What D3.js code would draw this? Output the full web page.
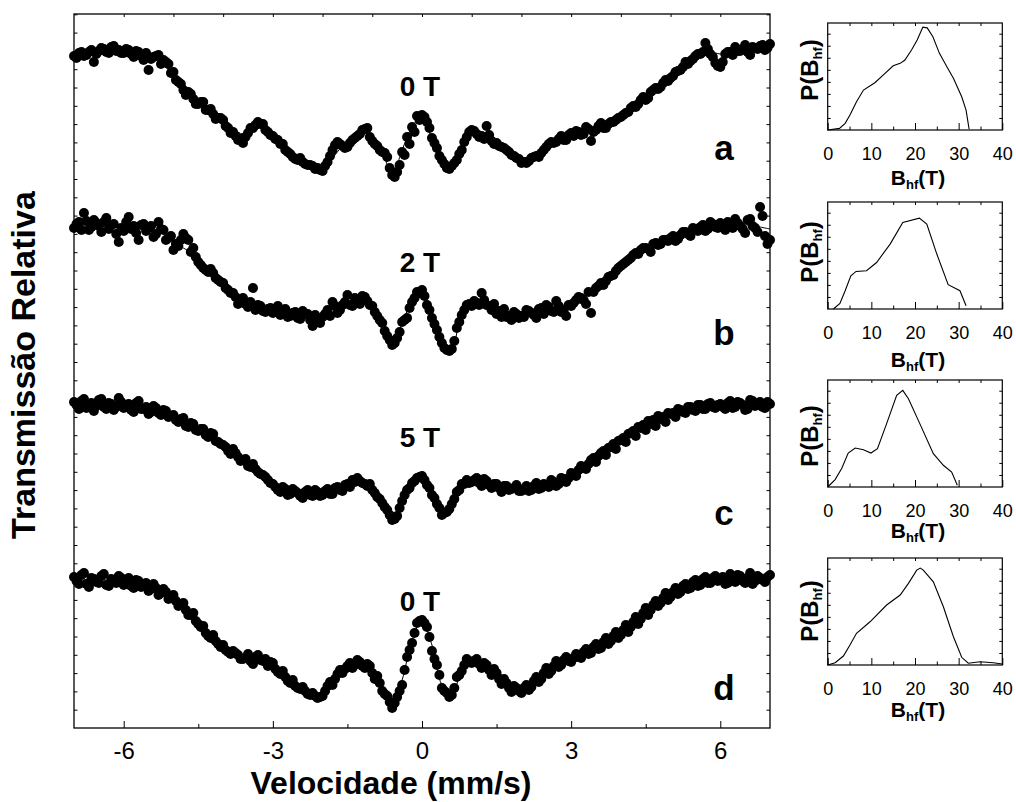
<!DOCTYPE html>
<html>
<head>
<meta charset="utf-8">
<script src="https://cdn.jsdelivr.net/npm/d3@7"></script>
<style>
  body { margin: 0; background: #fff; }
  svg text { font-family: "Liberation Sans", Arial, sans-serif; fill: #000; }
</style>
</head>
<body>
<div id="chart"></div>
<script>
// velocity grid of the spectrometer (mm/s): two interleaved channel sets, fit every 0.2
const velPts = d3.range(-70, 71).map(i => i / 10);
const velPts2 = d3.range(-70, 70).map(i => (i + 0.5) / 10);
const velFit = d3.range(-35, 36).map(i => i / 5);

// absorption below each spectrum's baseline (arb. units)
const ptsA = [16,13,16,12,22,11,9,13,6,10, 13,10,17,12,20,30,17,15,20,24, 32,42,50,52,59,64,62,70,74,78,
  80,88,92,100,103,93,88,82,84,92, 96,100,104,112,117,120,122,125,126,128, 131,122,110,102,106,107,100,96,90,88,
  101,106,112,117,135,132,112,97,87,76, 75,82,98,108,120,128,126,120,110,97, 90,94,96,86,101,103,107,110,115,118,
  123,123,118,116,113,107,102,102,96,100, 93,91,95,87,101,90,83,88,82,80, 77,73,68,67,60,60,52,48,47,40,
  38,32,30,22,21,16,14,3,14,23, 27,14,12,7,11,5,15,8,6,10, 4];
const ptsA2 = [18,12,15,10,14,8,12,7,11,13, 9,14,11,16,13,19,16,24,22,33, 40,44,55,54,64,62,70,69,79,78,
  86,93,96,99,97,88,85,84,90,95, 99,104,110,114,119,118,124,125,129,130, 126,116,105,104,108,103,98,94,89,97,
  104,110,113,128,137,125,115,104,92,80, 77,88,103,116,124,129,123,114,102,92, 91,97,99,95,104,106,108,112,116,119,
  122,121,117,117,110,104,103,99,100,95, 96,92,94,89,92,86,88,84,82,78, 75,72,66,64,57,58,50,49,43,41,
  36,31,27,24,19,14,12,9,17,26, 22,12,15,11,9,12,7,9,5,8];
const fitA = [15,14,12,11,10,11,12,15,19,25, 36,49,60,67,74,82,89,94,90,87, 93,105,115,123,127,128,118,106,98,91,
  100,112,135,110,87,77,100,123,127,106, 92,97,102,105,113,120,120,113,106,100, 97,93,91,88,83,77,70,61,54,46,
  39,30,21,14,12,14,13,10,8,7, 5];

const ptsB = [8,2,-7,10,0,6,2,9,4,22, 11,-3,6,20,4,8,17,2,10,18, 30,26,14,20,28,42,48,52,53,60,
  63,70,73,84,78,87,68,85,91,89, 93,86,91,97,93,98,91,94,106,100, 97,90,82,93,85,75,86,79,76,81,
  86,96,103,116,125,118,102,98,82,72, 70,85,98,110,123,130,129,108,95,85, 86,83,73,85,90,94,97,97,100,94,
  96,90,93,98,88,85,91,81,92,96, 86,80,78,84,93,68,63,61,56,51, 46,42,38,33,30,28,32,23,24,20,
  18,21,15,12,16,9,7,11,2,7, 3,10,4,-1,6,13,-1,8,-13,16, 20];
const ptsB2 = [4,10,1,7,3,12,-2,5,14,8, 2,9,13,5,11,6,14,9,20,16, 24,20,18,32,37,45,50,49,58,62,
  68,73,77,80,84,82,90,86,92,88, 91,95,89,96,92,99,94,100,95,103, 94,96,86,90,82,85,78,84,77,85,
  92,100,111,120,123,112,100,88,78,73, 76,90,104,117,128,131,121,102,90,84, 81,85,80,86,84,91,89,96,92,98,
  97,91,95,89,94,87,92,86,90,85, 83,77,80,72,72,66,65,57,55,48, 44,40,35,34,28,29,24,25,20,21,
  16,19,12,14,8,11,5,9,4,8, 7,2,8,3,9,0,6,12,-4,24];
const fitB = [6,6,5,5,6,7,7,8,10,14, 21,28,34,46,55,63,72,80,85,88, 90,91,93,95,97,97,92,87,83,80,
  85,107,127,103,82,72,98,128,128,92, 83,82,87,93,95,94,92,91,89,86, 83,78,72,65,56,46,37,30,26,21,
  18,15,11,8,6,5,5,5,5,7, 9];

const ptsC = [2,9,-1,6,11,0,7,3,10,-2, 8,4,12,1,9,14,6,13,10,17, 15,22,18,27,24,31,29,37,34,42,
  45,51,49,57,60,66,64,72,75,80, 84,90,87,95,89,93,98,90,96,92, 95,89,94,87,91,84,80,78,83,86,
  90,97,103,110,120,116,101,90,83,78, 76,85,95,104,115,112,104,92,84,80, 82,78,86,81,88,84,92,86,89,85,
  91,86,90,83,88,85,80,86,78,82, 73,76,66,69,60,62,53,55,47,49, 40,42,33,36,28,30,24,26,19,22,
  14,17,10,13,7,11,5,9,3,8, 4,9,1,7,3,10,0,6,2,8, 4];
const ptsC2 = [5,1,8,3,6,-1,9,4,7,2, 6,10,3,9,7,12,8,15,11,16, 20,19,26,23,30,29,35,33,41,44,
  47,54,53,61,59,67,69,74,77,83, 87,92,89,94,91,96,92,95,90,96, 91,94,88,90,85,87,82,81,84,84,
  93,99,107,115,119,108,95,88,81,77, 80,88,98,108,113,109,99,90,84,83, 80,83,79,85,84,88,86,90,88,91,
  89,91,86,89,84,87,82,84,79,78, 75,70,68,64,58,56,51,48,44,41, 38,34,31,27,25,21,20,16,17,13,
  13,9,12,7,10,5,9,4,7,5, 7,3,8,2,5,9,1,5,7,2];
const fitC = [3,3,4,4,5,5,6,8,10,13, 17,22,27,33,40,47,55,62,70,78, 85,90,92,93,93,93,92,88,84,81,
  86,98,117,100,84,78,91,111,108,88, 81,81,83,86,88,90,90,88,85,81, 76,69,61,53,45,37,30,24,19,15,
  12,10,8,7,6,5,5,5,5,4, 4];

const ptsD = [2,9,-2,12,4,8,-1,11,5,1, 10,3,13,6,11,16,9,20,14,24, 20,31,28,40,38,49,51,61,60,69,
  70,77,76,80,84,79,89,80,86,91, 88,97,96,106,105,113,112,119,118,123, 121,111,110,99,98,91,93,85,91,89,
  98,101,116,121,133,122,110,82,68,48, 45,52,76,90,113,118,120,102,96,84, 88,84,93,90,100,98,109,108,117,113,
  118,110,112,102,104,93,96,86,90,82, 87,79,83,74,78,69,73,63,66,57, 60,50,52,42,44,33,35,26,28,18,
  22,13,17,9,13,5,10,2,8,1, 5,9,-1,7,1,8,-2,6,3,7, 0];
const ptsD2 = [6,0,9,3,7,1,10,4,8,3, 7,11,5,12,8,14,13,18,17,21, 26,30,35,40,46,52,58,63,66,72,
  75,79,78,84,83,86,82,85,84,87, 94,99,102,108,111,114,116,120,121,122, 116,107,104,95,94,88,90,87,93,91,
  104,108,119,127,128,116,95,75,58,46, 48,62,84,100,116,122,113,100,90,86, 86,89,88,95,94,104,104,113,111,116,
  113,115,106,107,98,99,91,92,85,86, 83,82,77,79,72,74,67,69,61,63, 55,57,47,49,38,40,30,31,23,25,
  17,19,11,14,7,11,4,8,3,6, 2,8,4,0,6,3,9,1,5,2];
const fitD = [5,5,5,5,5,6,7,9,12,16, 23,32,43,55,65,73,78,82,85,83, 89,97,105,112,118,120,110,97,91,89,
  95,110,130,105,65,45,70,110,120,95, 85,88,93,100,110,115,111,103,95,89, 85,81,77,72,66,59,51,42,33,25,
  19,14,10,7,5,4,3,3,3,2, 2];

// vertical offsets of the stacked spectra and their labels
const offsets = [688, 508, 328, 153];
const fields = ["0 T", "2 T", "5 T", "0 T"];
const tags = ["a", "b", "c", "d"];

// hyperfine field distributions P(Bhf)
const bA = [0,2.7,4,5.1,6.6,8.2,10.8,12.7,15,16.6,17.7,19.2,20.5,21.8,22.8,24.1,25.6,27.3,28.8,30.7,31.7,32.4];
const pA = [0,.016,.065,.146,.275,.388,.459,.534,.624,.648,.68,.777,.874,1.0,.993,.906,.745,.614,.502,.323,.194,.007];
const bB = [1.3,2.8,4,5.3,6.5,8.9,11.2,14.3,17.2,21,22.7,25,27.6,30.3,31.7];
const pB = [0,.054,.178,.323,.365,.372,.452,.631,.841,.883,.825,.534,.236,.178,.032];
const bC = [0,1.7,3.2,4.7,6.3,8.2,9.9,11.4,13.5,15.8,17.2,18.5,21.1,24.2,26.5,28.4,29.7];
const pC = [0,.072,.179,.33,.379,.363,.33,.373,.616,.89,.939,.858,.616,.324,.211,.146,.017];
const bD = [0,1.7,3.6,5.1,6.6,9.7,13.5,16.6,18.5,20.4,21.2,21.9,24.2,26.5,28.8,30.7,32.2,34.9,37.9,40];
const pD = [0,.022,.087,.194,.308,.42,.583,.68,.793,.922,.942,.922,.809,.566,.275,.075,.017,.032,.022,.01];

const spectra = [
  {pts: ptsA, pts2: ptsA2, fit: fitA}, {pts: ptsB, pts2: ptsB2, fit: fitB},
  {pts: ptsC, pts2: ptsC2, fit: fitC}, {pts: ptsD, pts2: ptsD2, fit: fitD}
].map((s, i) => ({...s, off: offsets[i], field: fields[i], tag: tags[i]}));
const dists = [[bA, pA], [bB, pB], [bC, pC], [bD, pD]];

const W = 1016, H = 802;
const FONT = '"Liberation Sans", Arial, sans-serif';
const svg = d3.select("#chart").append("svg").attr("width", W).attr("height", H);

// ---------- main panel ----------
const m = {l: 74, r: 770, t: 14, b: 728};
const x = d3.scaleLinear().domain([-7, 7]).range([m.l, m.r]);
const y = d3.scaleLinear().domain([0, 714]).range([m.b, m.t]);

const line = d3.line().x(d => x(d[0])).y(d => y(d[1])).curve(d3.curveCatmullRom);

spectra.forEach(s => {
  svg.append("path")
    .datum(velFit.map((v, i) => [v, s.off - s.fit[i]]))
    .attr("d", line).attr("fill", "none").attr("stroke", "#000").attr("stroke-width", 1);
  const dots = velPts.map((v, i) => [v, s.off - s.pts[i]])
    .concat(velPts2.map((v, i) => [v, s.off - s.pts2[i]]));
  svg.append("g").selectAll("circle").data(dots).enter()
    .append("circle")
    .attr("cx", d => x(d[0])).attr("cy", d => y(d[1])).attr("r", 5).attr("fill", "#000");
});

function noDomain(g) { g.select(".domain").remove(); g.selectAll("line").attr("stroke", "#000"); }

svg.append("g").attr("transform", `translate(0,${m.b})`)
  .call(d3.axisBottom(x).tickValues([-6, -3, 0, 3, 6]).tickSize(-7).tickPadding(14).tickFormat(d => String(d)))
  .call(noDomain)
  .call(g => g.selectAll("text").attr("font-size", 24).style("font-family", FONT));
svg.append("g").attr("transform", `translate(0,${m.b})`)
  .call(d3.axisBottom(x).tickValues([-4.5, -1.5, 1.5, 4.5]).tickSize(-4).tickFormat(""))
  .call(noDomain);
svg.append("g").attr("transform", `translate(0,${m.t})`)
  .call(d3.axisTop(x).tickValues(d3.range(-6, 7)).tickSize(-3).tickFormat(""))
  .call(noDomain);
const yTicks = d3.range(18.3, 714, 18.3);
svg.append("g").attr("transform", `translate(${m.l},0)`)
  .call(d3.axisLeft(y).tickValues(yTicks).tickSize(-3.5).tickFormat(""))
  .call(noDomain);
svg.append("g").attr("transform", `translate(${m.r},0)`)
  .call(d3.axisRight(y).tickValues(yTicks).tickSize(-3.5).tickFormat(""))
  .call(noDomain);

svg.append("rect").attr("x", m.l).attr("y", m.t).attr("width", m.r - m.l).attr("height", m.b - m.t)
  .attr("fill", "none").attr("stroke", "#000").attr("stroke-width", 1.3);

// field and sample labels
const fieldY = [96, 272, 447, 611];
const tagY = [160, 345, 525, 700];
spectra.forEach((s, i) => {
  svg.append("text").attr("x", 420).attr("y", fieldY[i]).attr("text-anchor", "middle")
    .attr("font-size", 28).attr("font-weight", "bold").text(s.field);
  svg.append("text").attr("x", 724).attr("y", tagY[i]).attr("text-anchor", "middle")
    .attr("font-size", 35).attr("font-weight", "bold").text(s.tag);
});

svg.append("text").attr("x", 391).attr("y", 794).attr("text-anchor", "middle")
  .attr("font-size", 32).attr("font-weight", "bold").text("Velocidade (mm/s)");
svg.append("text").attr("transform", "translate(35,365) rotate(-90)").attr("text-anchor", "middle")
  .attr("font-size", 34).attr("font-weight", "bold").text("Transmissão Relativa");

// ---------- insets ----------
const insTop = [23, 202, 380, 558];
const insH = 107;
const xLabY = [185, 367, 538, 717];
const yLabY = [70, 252, 436, 611];
const bx = d3.scaleLinear().domain([0, 40]).range([827.7, 1002.3]);

dists.forEach(([bs, ps], i) => {
  const top = insTop[i], bot = top + insH;
  const py = d3.scaleLinear().domain([0, 1.04]).range([bot, top]);
  const g = svg.append("g");

  g.append("path").datum(bs.map((b, k) => [b, ps[k]]))
    .attr("d", d3.line().x(d => bx(d[0])).y(d => py(d[1])))
    .attr("fill", "none").attr("stroke", "#000").attr("stroke-width", 1.1);

  g.append("g").attr("transform", `translate(0,${bot})`)
    .call(d3.axisBottom(bx).tickValues([0, 10, 20, 30, 40]).tickSize(-7).tickPadding(17))
    .call(noDomain)
    .call(a => a.selectAll("text").attr("font-size", 18).style("font-family", FONT));
  g.append("g").attr("transform", `translate(0,${bot})`)
    .call(d3.axisBottom(bx).tickValues([5, 15, 25, 35]).tickSize(-3.5).tickFormat("")).call(noDomain);
  g.append("g").attr("transform", `translate(0,${top})`)
    .call(d3.axisTop(bx).tickValues([5, 10, 15, 20, 25, 30, 35]).tickSize(-3).tickFormat("")).call(noDomain);
  const pt = d3.range(0.117, 1.04, 0.117);
  g.append("g").attr("transform", `translate(${bx(0)},0)`)
    .call(d3.axisLeft(py).tickValues(pt).tickSize(-3).tickFormat("")).call(noDomain);
  g.append("g").attr("transform", `translate(${bx(40)},0)`)
    .call(d3.axisRight(py).tickValues(pt).tickSize(-3).tickFormat("")).call(noDomain);

  g.append("rect").attr("x", bx(0)).attr("y", top).attr("width", bx(40) - bx(0)).attr("height", insH)
    .attr("fill", "none").attr("stroke", "#000").attr("stroke-width", 1.2);

  const xl = g.append("text").attr("x", 918).attr("y", xLabY[i]).attr("text-anchor", "middle")
    .attr("font-size", 21).attr("font-weight", "bold");
  xl.append("tspan").text("B");
  xl.append("tspan").attr("font-size", 13).attr("dy", 4).text("hf");
  xl.append("tspan").attr("dy", -4).text("(T)");

  const yl = g.append("text").attr("transform", `translate(818,${yLabY[i]}) rotate(-90)`)
    .attr("text-anchor", "middle").attr("font-size", 24).attr("font-weight", "bold");
  yl.append("tspan").text("P(B");
  yl.append("tspan").attr("font-size", 13).attr("dy", 4).text("hf");
  yl.append("tspan").attr("dy", -4).text(")");
});
</script>
</body>
</html>
